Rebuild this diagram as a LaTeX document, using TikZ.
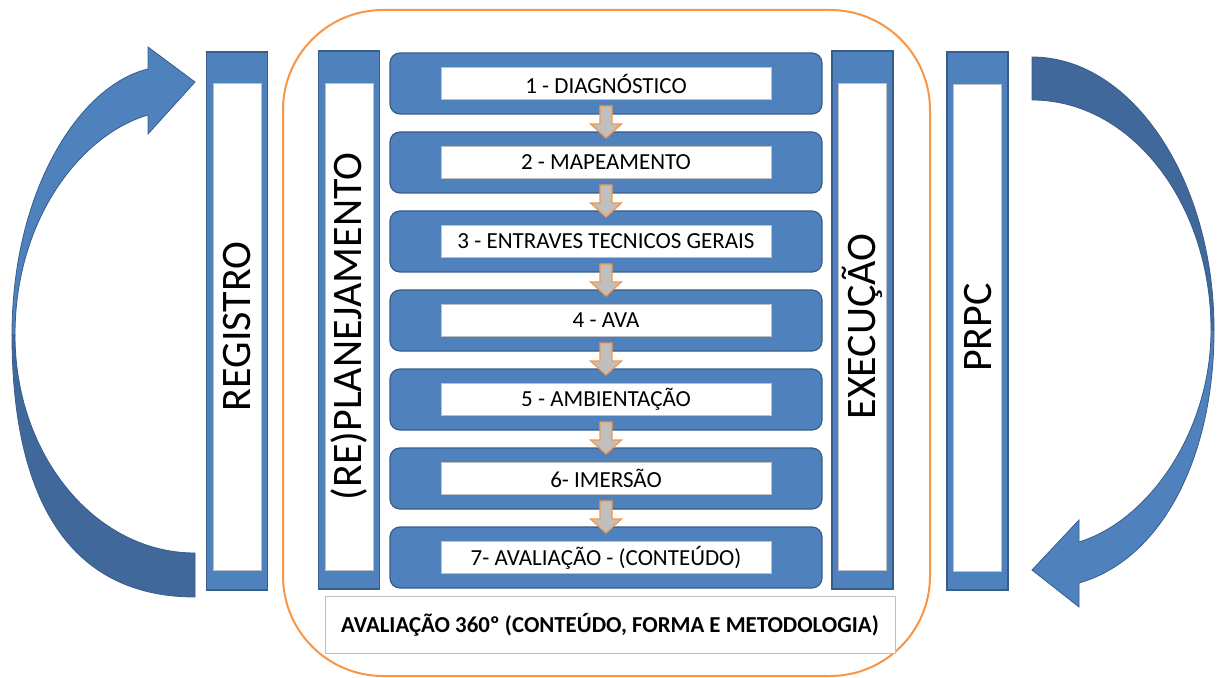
\documentclass[tikz,border=0pt]{standalone}
\usepackage{fontspec}
\setmainfont{Carlito}
\usetikzlibrary{positioning}
\definecolor{boxblue}{HTML}{4F81BD}
\definecolor{boxedge}{HTML}{385D8A}
\definecolor{arcdark}{HTML}{41689B}
\definecolor{frameorange}{HTML}{F79646}
\definecolor{flowgray}{HTML}{BFBFBF}
\definecolor{labeledge}{HTML}{BFBFBF}

\begin{document}
\begin{tikzpicture}[x=0.5pt, y=-0.5pt,
    every node/.style={inner sep=0pt, outer sep=0pt},
    stepbox/.style={rectangle, rounded corners=5pt, fill=boxblue, draw=boxedge, line width=0.6pt, minimum width=216pt, minimum height=30.5pt},
    steplabel/.style={rectangle, fill=white, draw=labeledge, line width=0.4pt, minimum width=165pt, minimum height=16pt, font=\fontsize{11.5}{13}\selectfont},
    barbox/.style={rectangle, fill=boxblue, draw=boxedge, line width=0.6pt, minimum width=30.5pt, minimum height=269pt},
    barlabel/.style={rectangle, fill=white, draw=labeledge, line width=0.4pt, rotate=90, minimum width=243.5pt, minimum height=24pt, font=\fontsize{21}{24}\selectfont},
    flowarrow/.style={fill=flowgray, draw=frameorange, line width=0.6pt, line join=miter},
    bigarrow/.style={fill=boxblue, draw=boxedge, line width=0.4pt},
    bigarrowback/.style={fill=arcdark, draw=boxedge, line width=0.4pt}]
                \useasboundingbox (0,0) rectangle (1219,678);
                \draw[frameorange, line width=1pt, rounded corners=50pt] (283,10) rectangle (930,676);
                \node[barbox] (reg) at (237,321) {};
                \node[barlabel] (regt) at (237,326.5) {REGISTRO};
                \node[barbox] (plan) at (349,320) {};
                \node[barlabel] (plant) at (349,326.5) {(RE)PLANEJAMENTO};
                \node[barbox] (exec) at (862.5,320) {};
                \node[barlabel] (exect) at (862.5,326.5) {EXECUÇÃO};
                \node[barbox] (prpc) at (977.5,321) {};
                \node[barlabel] (prpct) at (977.5,327.5) {PRPC};
                \node[stepbox] (s1) at (606,83.5) {};
                \node[stepbox, below=9pt of s1] (s2) {};
                \node[stepbox, below=9pt of s2] (s3) {};
                \node[stepbox, below=9pt of s3] (s4) {};
                \node[stepbox, below=9pt of s4] (s5) {};
                \node[stepbox, below=9pt of s5] (s6) {};
                \node[stepbox, below=9pt of s6] (s7) {};
                \node[steplabel] (l1) at (s1) {1 - DIAGNÓSTICO};
                \node[steplabel] (l2) at (s2) {2 - MAPEAMENTO};
                \node[steplabel] (l3) at (s3) {3 - ENTRAVES TECNICOS GERAIS};
                \node[steplabel] (l4) at (s4) {4 - AVA};
                \node[steplabel] (l5) at (s5) {5 - AMBIENTAÇÃO};
                \node[steplabel] (l6) at (s6) {6- IMERSÃO};
                \node[steplabel] (l7) at (s7) {7- AVALIAÇÃO - (CONTEÚDO)};
                \draw[flowarrow] ([shift={(-6,-8)}]s1.south) -- ++(0,18) -- ++(-9.5,0) -- ++(15.5,14) -- ++(15.5,-14) -- ++(-9.5,0) -- ++(0,-18) -- cycle;
                \draw[flowarrow] ([shift={(-6,-8)}]s2.south) -- ++(0,18) -- ++(-9.5,0) -- ++(15.5,14) -- ++(15.5,-14) -- ++(-9.5,0) -- ++(0,-18) -- cycle;
                \draw[flowarrow] ([shift={(-6,-8)}]s3.south) -- ++(0,18) -- ++(-9.5,0) -- ++(15.5,14) -- ++(15.5,-14) -- ++(-9.5,0) -- ++(0,-18) -- cycle;
                \draw[flowarrow] ([shift={(-6,-8)}]s4.south) -- ++(0,18) -- ++(-9.5,0) -- ++(15.5,14) -- ++(15.5,-14) -- ++(-9.5,0) -- ++(0,-18) -- cycle;
                \draw[flowarrow] ([shift={(-6,-8)}]s5.south) -- ++(0,18) -- ++(-9.5,0) -- ++(15.5,14) -- ++(15.5,-14) -- ++(-9.5,0) -- ++(0,-18) -- cycle;
                \draw[flowarrow] ([shift={(-6,-8)}]s6.south) -- ++(0,18) -- ++(-9.5,0) -- ++(15.5,14) -- ++(15.5,-14) -- ++(-9.5,0) -- ++(0,-18) -- cycle;
                \node[draw=labeledge, fill=white, line width=0.5pt, minimum width=285pt, minimum height=28.5pt, font=\bfseries\fontsize{11.4}{13}\selectfont] (aval) at (610,625) {AVALIAÇÃO 360º (CONTEÚDO, FORMA E METODOLOGIA)};
                \draw[bigarrowback] (195,597) .. controls (70,597) and (12,500) .. (12,335) -- (15,335) .. controls (15,455) and (95,553) .. (195,553) -- cycle;
                \draw[bigarrow] (12,335) .. controls (12,190) and (80,85) .. (148,69) -- (148,47) -- (195,82) -- (148,134) -- (148,115) .. controls (80,135) and (15,220) .. (15,335) -- cycle;
                \draw[bigarrowback] (1032,57) .. controls (1132,57) and (1214,180) .. (1214,330) -- (1211,330) .. controls (1211,203) and (1131,100) .. (1032,100) -- cycle;
                \draw[bigarrow] (1214,330) .. controls (1214,460) and (1160,560) .. (1079,583) -- (1079,607) -- (1032,570) -- (1079,520) -- (1079,542) .. controls (1150,520) and (1211,430) .. (1211,330) -- cycle;
            \end{tikzpicture}
\end{document}
